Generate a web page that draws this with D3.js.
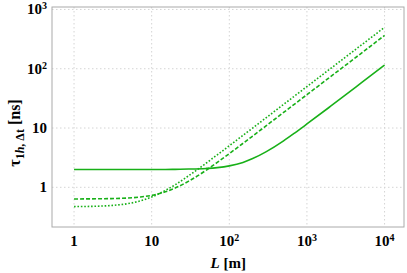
<!DOCTYPE html>
<html>
<head>
<meta charset="utf-8">
<script src="https://cdn.jsdelivr.net/npm/d3@7"></script>
<style>
  body { margin: 0; background: #fff; }
  text { font-family: "Liberation Serif", "DejaVu Serif", serif; font-weight: bold; }
</style>
</head>
<body>
<svg id="chart" width="407" height="273"></svg>
<script>
// values
const lengths = [1, 2, 3, 5, 7, 10, 15, 20, 30, 50, 70, 100, 150, 200, 300, 500, 700, 1000, 2000, 5000, 10000];
const tauSolid  = [2.0, 2.0, 2.0, 2.0, 2.0, 2.0, 2.0, 2.01, 2.03, 2.08, 2.15, 2.3, 2.63, 3.05, 4.0, 6.08, 8.3, 11.7, 23.1, 57.5, 115];
const tauDashed = [0.636, 0.64, 0.645, 0.66, 0.685, 0.73, 0.84, 0.97, 1.27, 1.93, 2.63, 3.7, 5.51, 7.33, 10.97, 18.3, 25.6, 36.5, 73, 182, 365];
const tauDotted = [0.473, 0.48, 0.493, 0.532, 0.586, 0.686, 0.885, 1.1, 1.57, 2.54, 3.53, 5.02, 7.52, 10.0, 15.0, 25, 35, 50, 100, 250, 500];
const xTicks = [1, 10, 100, 1000, 10000];
const yTicks = [1, 10, 100, 1000];

const series = [
  { name: "solid", values: tauSolid, dash: null },
  { name: "dashed", values: tauDashed, dash: "4,2" },
  { name: "dotted", values: tauDotted, dash: "1.6,1.8" }
];

const svg = d3.select("#chart");
const margin = { top: 7, right: 3, bottom: 46, left: 52 },
      width = 407 - margin.left - margin.right,
      height = 273 - margin.top - margin.bottom;

const g = svg.append("g").attr("transform", `translate(${margin.left},${margin.top})`);

const x = d3.scaleLog().domain([0.52, 17800]).range([0, width]);
const y = d3.scaleLog().domain([0.214, 1100]).range([height, 0]);

// grid
g.selectAll(".gx").data(xTicks).enter().append("line")
  .attr("x1", d => x(d)).attr("x2", d => x(d))
  .attr("y1", 0).attr("y2", height)
  .attr("stroke", "#d4d4d4").attr("stroke-dasharray", "1.5,2.5");
g.selectAll(".gy").data(yTicks).enter().append("line")
  .attr("x1", 0).attr("x2", width)
  .attr("y1", d => y(d)).attr("y2", d => y(d))
  .attr("stroke", "#d4d4d4").attr("stroke-dasharray", "1.5,2.5");

// frame
g.append("rect")
  .attr("x", 0).attr("y", 0).attr("width", width).attr("height", height)
  .attr("fill", "none").attr("stroke", "#aaaaaa").attr("stroke-width", 1);

// tick labels with superscripts
function powLabel(sel, d) {
  const e = Math.round(Math.log10(d));
  if (e <= 1) { sel.text(String(d)); return; }
  sel.append("tspan").text("10");
  sel.append("tspan").attr("dy", -5).style("font-size", "10px").text(e);
}

xTicks.forEach(d => {
  const t = g.append("text")
    .attr("x", x(d)).attr("y", height + 19)
    .attr("text-anchor", "middle")
    .style("font-size", "15px").style("fill", "#000");
  powLabel(t, d);
});
yTicks.forEach(d => {
  const t = g.append("text")
    .attr("x", -5).attr("y", y(d) + 5)
    .attr("text-anchor", "end")
    .style("font-size", "15px").style("fill", "#000");
  powLabel(t, d);
});

// axis labels
const xl = g.append("text")
  .attr("x", x(100) - 1).attr("y", height + 41)
  .attr("text-anchor", "middle")
  .style("font-size", "15px");
xl.append("tspan").style("font-style", "italic").text("L");
xl.append("tspan").text(" [m]");

const yl = svg.append("text")
  .attr("transform", "translate(20,133) rotate(-90)")
  .attr("text-anchor", "middle")
  .style("font-size", "16px");
yl.append("tspan").text("τ");
yl.append("tspan").attr("dy", 4).style("font-size", "12px").text("1");
yl.append("tspan").style("font-size", "12px").style("font-style", "italic").text("h");
yl.append("tspan").style("font-size", "12px").text(", Δt");
yl.append("tspan").attr("dy", -4).text("  [ns]");

// curves
const line = d3.line()
  .x(d => x(d[0]))
  .y(d => y(d[1]))
  .curve(d3.curveMonotoneX);

series.forEach(s => {
  g.append("path")
    .datum(lengths.map((l, i) => [l, s.values[i]]))
    .attr("d", line)
    .attr("fill", "none")
    .attr("stroke", "#18b018")
    .attr("stroke-width", 1.6)
    .attr("stroke-dasharray", s.dash);
});
</script>
</body>
</html>
